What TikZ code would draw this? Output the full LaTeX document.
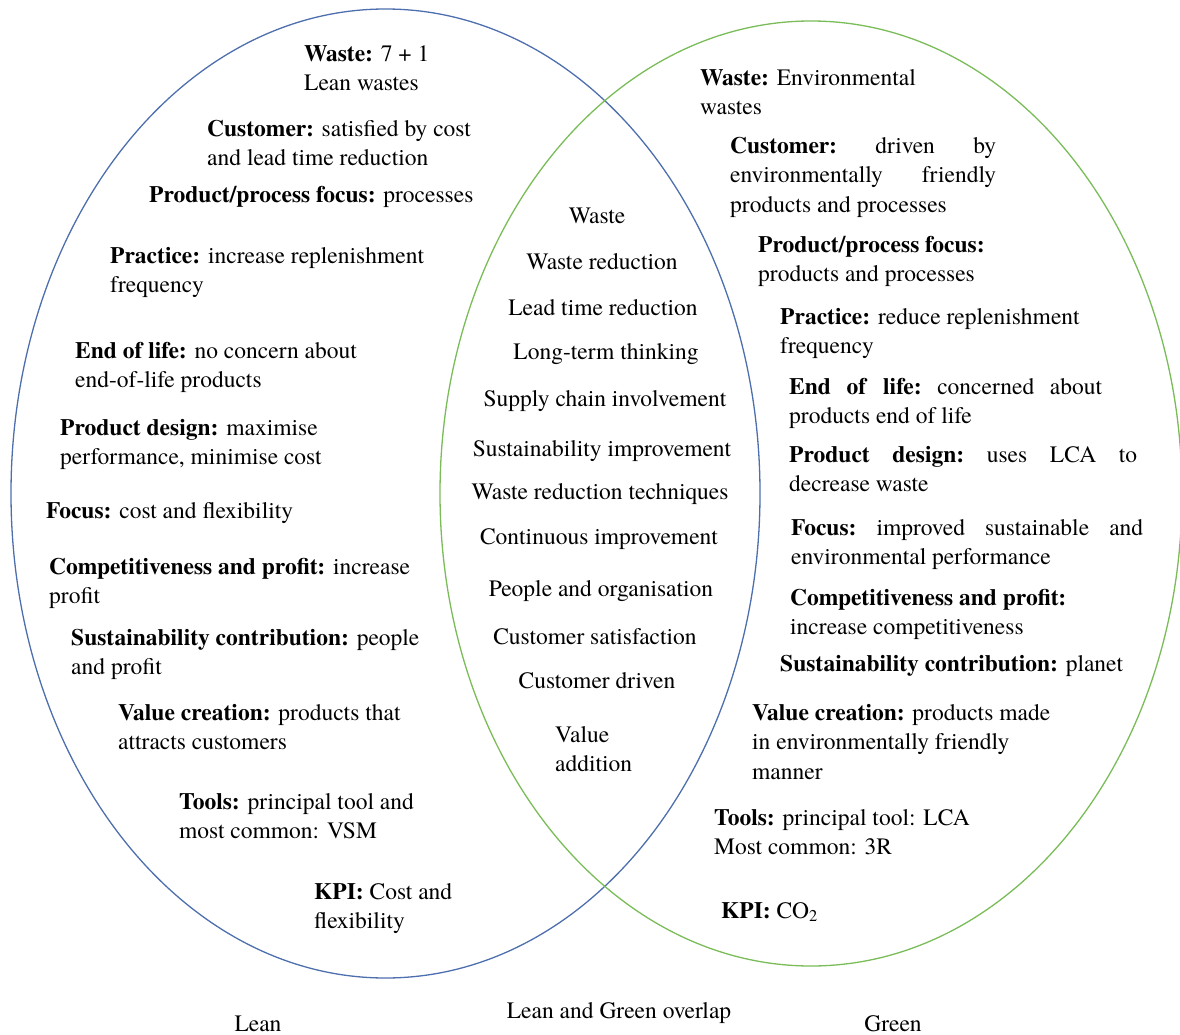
\documentclass[tikz,border=0pt]{standalone}
\usepackage{fontspec}
\setmainfont{texgyretermes}[Extension=.otf, UprightFont=*-regular, BoldFont=*-bold]
\definecolor{leanblue}{RGB}{78,111,173}
\definecolor{greenline}{RGB}{122,188,88}
\begin{document}
\begin{tikzpicture}[x=1pt,y=-1pt,
  lbl/.style={inner sep=0pt, font=\fontsize{23.5}{29.5}\selectfont, yshift=20.65pt},
  txt/.style={lbl, anchor=north west, align=left},
  mid/.style={lbl, anchor=north, align=center},
  ring/.style={line width=1.3pt}]
\useasboundingbox (0,0) rectangle (1180,1035);

% the two sets
\draw[ring, leanblue] (385.5,493.5) ellipse [x radius=374.5, y radius=484.5];
\draw[ring, greenline] (811,493.5) ellipse [x radius=371, y radius=472.5];

% Lean
\node[txt] (lwaste) at (304,61) {\strut\textbf{Waste:} 7 + 1\\Lean wastes};
\node[txt] (lcust) at (207,136) {\strut\textbf{Customer:} satisfied by cost\\and lead time reduction};
\node[txt] (lppf) at (149,202) {\strut\textbf{Product/process focus:} processes};
\node[txt] (lprac) at (110,263) {\strut\textbf{Practice:} increase replenishment\\frequency};
\node[txt] (leol) at (75,358) {\strut\textbf{End of life:} no concern about\\end-of-life products};
\node[txt] (lpd) at (60,435) {\strut\textbf{Product design:} maximise\\performance, minimise cost};
\node[txt] (lfocus) at (46,518) {\strut\textbf{Focus:} cost and flexibility};
\node[txt] (lcomp) at (49,574) {\strut\textbf{Competitiveness and profit:} increase\\profit};
\node[txt] (lsust) at (71,645) {\strut\textbf{Sustainability contribution:} people\\and profit};
\node[txt] (lvalue) at (118,720) {\strut\textbf{Value creation:} products that\\attracts customers};
\node[txt] (ltools) at (179,809) {\strut\textbf{Tools:} principal tool and\\most common: VSM};
\node[txt] (lkpi) at (314,899) {\strut\textbf{KPI:} Cost and\\flexibility};

% overlap
\node[mid] (m1) at (597,223) {\strut Waste};
\node[mid] (m2) at (602,269) {\strut Waste reduction};
\node[mid] (m3) at (603,315) {\strut Lead time reduction};
\node[mid] (m4) at (606,359) {\strut Long-term thinking};
\node[mid] (m5) at (605,406) {\strut Supply chain involvement};
\node[mid] (m6) at (602,456) {\strut Sustainability improvement};
\node[mid] (m7) at (600,499) {\strut Waste reduction techniques};
\node[mid] (m8) at (599,544) {\strut Continuous improvement};
\node[mid] (m9) at (601,596) {\strut People and organisation};
\node[mid] (m10) at (595,644) {\strut Customer satisfaction};
\node[mid] (m11) at (597,688) {\strut Customer driven};
\node[txt] (m12) at (555,742) {\strut Value\\addition};

% Green
\node[txt] (gwaste) at (700,85) {\strut\textbf{Waste:} Environmental\\wastes};
\node[txt] (gcust) at (730,153) {\strut\hbox to 266pt{\textbf{Customer:}\hfill driven\hfill by}\\
  \hbox to 266pt{environmentally\hfill friendly}\\products and processes};
\node[txt] (gppf) at (758,252) {\strut\textbf{Product/process focus:}\\products and processes};
\node[txt] (gprac) at (780,324) {\strut\textbf{Practice:} reduce replenishment\\frequency};
\node[txt] (geol) at (789,394) {\strut\hbox to 313pt{\textbf{End}\hfill\textbf{of}\hfill\textbf{life:}\hfill concerned\hfill about}\\products end of life};
\node[txt] (gpd) at (789,462) {\strut\hbox to 348pt{\textbf{Product}\hfill\textbf{design:}\hfill uses\hfill LCA\hfill to}\\decrease waste};
\node[txt] (gfocus) at (791,535) {\strut\hbox to 352pt{\textbf{Focus:}\hfill improved\hfill sustainable\hfill and}\\environmental performance};
\node[txt] (gcomp) at (790,605) {\strut\textbf{Competitiveness and profit:}\\increase competitiveness};
\node[txt] (gsust) at (780,671) {\strut\textbf{Sustainability contribution:} planet};
\node[txt] (gvalue) at (752,720) {\strut\textbf{Value creation:} products made\\in environmentally friendly\\manner};
\node[txt] (gtools) at (714,825) {\strut\textbf{Tools:} principal tool: LCA\\Most common: 3R};
\node[txt] (gkpi) at (721,918) {\strut\textbf{KPI:} CO\textsubscript{2}};

% set captions
\node[mid] (capl) at (258,1031) {\strut Lean};
\node[mid] (capo) at (619,1018) {\strut Lean and Green overlap};
\node[mid] (capg) at (893,1031) {\strut Green};
\end{tikzpicture}
\end{document}
